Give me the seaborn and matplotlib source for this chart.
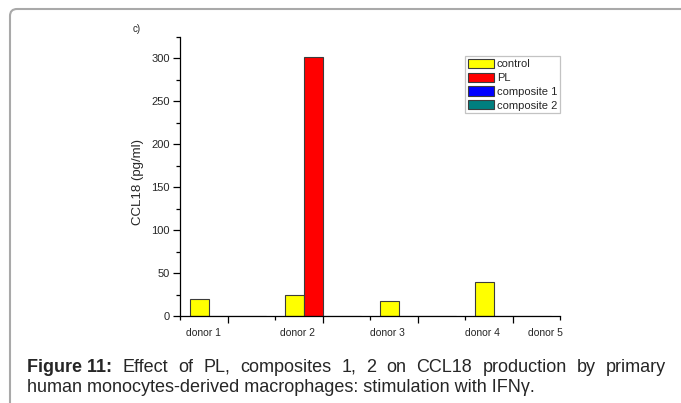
import matplotlib
matplotlib.use("Agg")
import matplotlib.pyplot as plt
import pandas as pd
import seaborn as sns
from matplotlib.patches import FancyBboxPatch
from matplotlib.transforms import IdentityTransform

# CCL18 production per donor and treatment (pg/ml)
donors = ["donor 1", "donor 2", "donor 3", "donor 4", "donor 5"]
treatments = ["control", "PL", "composite 1", "composite 2"]
control = [20, 24, 17, 40, 0]
pl = [0, 302, 0, 0, 0]
composite_1 = [0, 0, 0, 0, 0]
composite_2 = [0, 0, 0, 0, 0]
y_ticks = [0, 50, 100, 150, 200, 250, 300]

palette = ["#ffff00", "#ff0000", "#0000ff", "#007f7f"]
# horizontal shift of each donor label relative to its group centre
label_shift = [-0.25, -0.26, -0.32, -0.32, -0.65]

sns.set_theme(style="white")
plt.rcParams["font.family"] = ["Liberation Sans", "DejaVu Sans"]

df = pd.DataFrame({
    "donor": donors * 4,
    "treatment": [t for t in treatments for _ in donors],
    "value": control + pl + composite_1 + composite_2,
})

W, H = 681, 403
fig = plt.figure(figsize=(W / 100, H / 100), dpi=100)
ax = fig.add_axes([180 / W, 1 - 316 / H, 380 / W, 279 / H])

sns.barplot(data=df, x="donor", y="value", hue="treatment",
            order=donors, hue_order=treatments, palette=palette,
            saturation=1, width=0.8, edgecolor="#3c3c3c", linewidth=0.8,
            errorbar=None, ax=ax)

ax.set_xlim(-0.5, 3.5)
ax.set_ylim(0, 325)
for s in ["top", "right"]:
    ax.spines[s].set_visible(False)
for s in ["left", "bottom"]:
    ax.spines[s].set_color("black")
    ax.spines[s].set_linewidth(0.9)

ax.set_xticks([0, 1, 2, 3])
ax.set_xticklabels([])
ax.set_xticks([-0.5, 0.5, 1.5, 2.5, 3.5], minor=True)
ax.set_yticks(y_ticks)
ax.set_yticklabels([str(v) for v in y_ticks])
ax.set_yticks([25, 75, 125, 175, 225, 275, 325], minor=True)
ax.tick_params(axis="both", which="major", direction="out", length=5,
               width=0.9, color="black", labelsize=8, pad=2.5, left=True, bottom=True)
ax.tick_params(axis="both", which="minor", direction="out", length=3,
               width=0.9, color="black", left=True, bottom=True)
ax.set_xlabel("")
ax.set_ylabel("")

for i, (name, shift) in enumerate(zip(donors, label_shift)):
    ax.annotate(name, xy=(i + shift, 0), xycoords=("data", "axes fraction"),
                xytext=(0, -8.5), textcoords="offset points",
                ha="center", va="top", fontsize=7.5, annotation_clip=False)

fig.text(138 / W, 1 - 182 / H, "CCL18 (pg/ml)", rotation=90,
         ha="center", va="center", fontsize=9.5)
fig.text(137 / W, 1 - 29 / H, "c)", ha="center", va="center", fontsize=7)

handles, labels = ax.get_legend_handles_labels()
if ax.get_legend() is not None:
    ax.get_legend().remove()
leg = ax.legend(handles, labels, loc="upper right",
                bbox_to_anchor=(560 / W, 1 - 56 / H), bbox_transform=fig.transFigure,
                borderaxespad=0, frameon=True, fancybox=False, fontsize=8,
                handlelength=2.3, handleheight=0.9, handletextpad=0.3,
                labelspacing=0.3, borderpad=0.25)
leg.get_frame().set_edgecolor("#b4b4b4")
leg.get_frame().set_linewidth(0.9)

# page frame around the figure panel
frame = FancyBboxPatch((10, -20), 720, H - 9 + 20,
                       boxstyle="round,pad=0,rounding_size=7",
                       transform=IdentityTransform(), fill=False,
                       edgecolor="#a9a9a9", linewidth=1.5)
fig.add_artist(frame)

# caption: first line justified, second line left-aligned
cap_size = 13
line1 = [("Figure 11:", "bold"), ("Effect", "normal"), ("of", "normal"),
         ("PL,", "normal"), ("composites", "normal"), ("1,", "normal"),
         ("2", "normal"), ("on", "normal"), ("CCL18", "normal"),
         ("production", "normal"), ("by", "normal"), ("primary", "normal")]
renderer = fig.canvas.get_renderer()
items = []
for word, weight in line1:
    t = fig.text(0, H - 372, word, fontsize=cap_size, fontweight=weight,
                 ha="left", va="baseline", transform=IdentityTransform())
    items.append(t)
widths = [t.get_window_extent(renderer).width for t in items]
x0, x1 = 27, 666
gap = (x1 - x0 - sum(widths)) / (len(items) - 1)
x = x0
for t, w in zip(items, widths):
    t.set_x(x)
    x += w + gap
fig.text(27, H - 392, "human monocytes-derived macrophages: stimulation with IFNγ.",
         fontsize=cap_size, ha="left", va="baseline", transform=IdentityTransform())

fig.savefig("out.png", dpi=100, facecolor="white")
